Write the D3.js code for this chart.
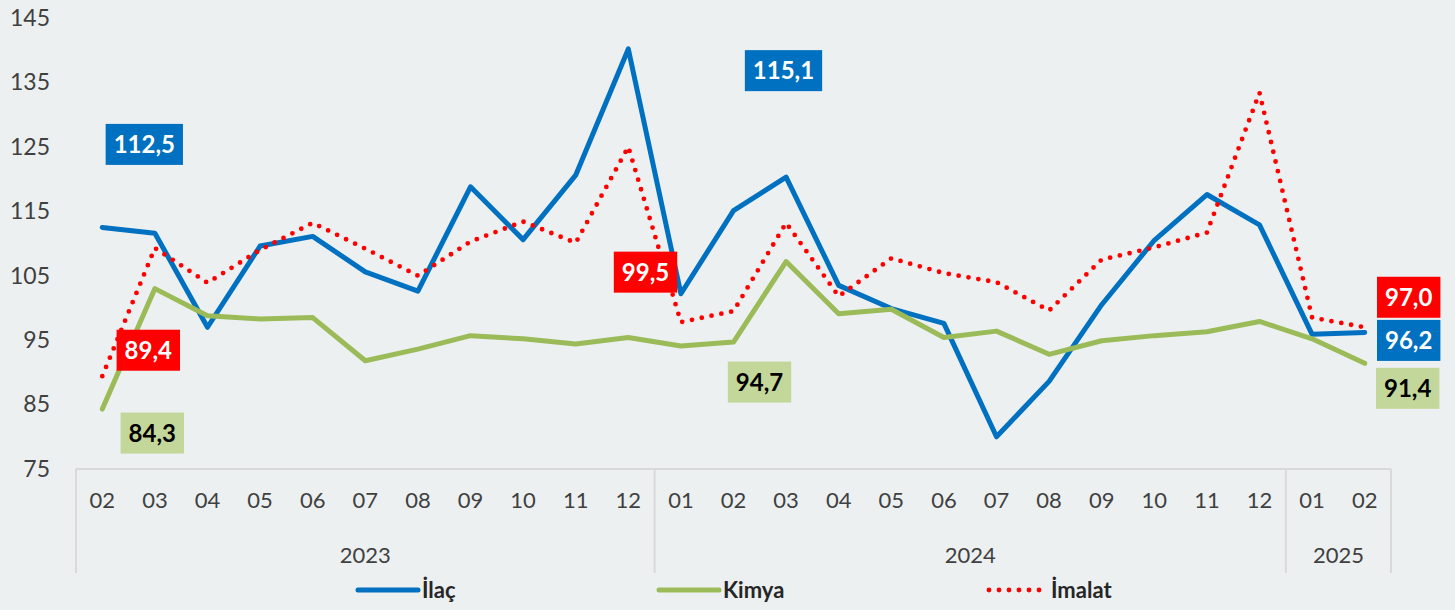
<!DOCTYPE html>
<html>
<head>
<meta charset="utf-8">
<script src="https://cdn.jsdelivr.net/npm/d3@7"></script>
<style>
  html, body { margin: 0; padding: 0; background: #ecf0f1; }
  svg { display: block; font-family: Lato, "Open Sans", sans-serif; }
</style>
</head>
<body>
<svg id="chart"></svg>
<script>
// Month labels and their year groups
const months = ['02','03','04','05','06','07','08','09','10','11','12',
  '01','02','03','04','05','06','07','08','09','10','11','12',
  '01','02'];
const yearGroups = [['2023', 11], ['2024', 12], ['2025', 2]];
const yTicks = [75, 85, 95, 105, 115, 125, 135, 145];

// Series values
const ilac = [112.5, 111.6, 97.0, 109.6, 111.1, 105.6, 102.6, 118.8, 110.6, 120.6, 140.2,
  102.2, 115.1, 120.3, 103.5, 99.9, 97.6, 80.0, 88.6, 100.5, 110.5, 117.6, 112.9,
  95.9, 96.2];
const kimya = [84.3, 103.0, 98.8, 98.3, 98.5, 91.8, 93.6, 95.7, 95.2, 94.4, 95.4,
  94.1, 94.7, 107.2, 99.1, 99.8, 95.4, 96.4, 92.8, 94.9, 95.7, 96.3, 97.9,
  95.2, 91.4];
const imalat = [89.4, 109.3, 103.9, 109.0, 113.2, 109.2, 105.0, 110.3, 113.4, 110.1, 125.0,
  97.8, 99.5, 113.2, 101.8, 107.7, 105.4, 104.0, 99.6, 107.5, 109.4, 111.7, 133.4,
  98.5, 97.0];

const series = [
  { name: 'İlaç', values: ilac, color: '#0070c0', dotted: false, labelBg: '#0070c0', labelFg: '#ffffff' },
  { name: 'Kimya', values: kimya, color: '#9bbb59', dotted: false, labelBg: '#c4d79b', labelFg: '#000000' },
  { name: 'İmalat', values: imalat, color: '#ff0000', dotted: true, labelBg: '#ff0000', labelFg: '#ffffff' }
];

// where the data labels sit relative to their point (series, index, dx, dy)
const labelSpots = [
  ['İlaç', 0, 42, -83], ['İmalat', 0, 46, -26], ['Kimya', 0, 50, 24],
  ['İlaç', 12, 50, -140], ['İmalat', 12, -88, -39], ['Kimya', 12, 26, 40],
  ['İmalat', 24, 44, -30], ['İlaç', 24, 44, 8], ['Kimya', 24, 43, 25]
];

const width = 1455, height = 610;
const svg = d3.select('#chart').attr('width', width).attr('height', height);

svg.append('rect').attr('width', width).attr('height', height).attr('fill', '#ecf0f1');

const plotLeft = 76, plotRight = 1391, plotTop = 18, plotBottom = 469;

const x = d3.scaleBand().domain(d3.range(months.length)).range([plotLeft, plotRight]).paddingInner(0).paddingOuter(0);
const cx = i => x(i) + x.bandwidth() / 2;
const y = d3.scaleLinear().domain([75, 145]).range([plotBottom, plotTop]);

// y axis labels only
const yAxis = d3.axisLeft(y).tickValues(yTicks).tickSize(0).tickPadding(0);
const yG = svg.append('g').attr('transform', 'translate(50,0)').call(yAxis);
yG.select('.domain').remove();
yG.selectAll('text').attr('fill', '#404040').style('font-size', '23px').attr('font-family', 'Lato, sans-serif');

// category box
const boxColor = '#d9d9d9';
const boxBottom = 573;
svg.append('line')
  .attr('x1', plotLeft).attr('x2', plotRight)
  .attr('y1', plotBottom).attr('y2', plotBottom)
  .attr('stroke', boxColor).attr('stroke-width', 2);

let start = 0;
const edges = [0];
yearGroups.forEach(g => { start += g[1]; edges.push(start); });
edges.forEach(e => {
  const ex = e < months.length ? x(e) : plotRight;
  svg.append('line')
    .attr('x1', ex).attr('x2', ex)
    .attr('y1', plotBottom).attr('y2', boxBottom)
    .attr('stroke', boxColor).attr('stroke-width', 2);
});

// month labels via axis
const xAxis = d3.axisBottom(x).tickSize(0).tickPadding(0).tickFormat(i => months[i]);
const xG = svg.append('g').attr('transform', `translate(0,${plotBottom + 23})`).call(xAxis);
xG.select('.domain').remove();
xG.selectAll('text').attr('fill', '#404040').style('font-size', '22px').attr('font-family', 'Lato, sans-serif').attr('dy', '0.35em').attr('y', 8);

// year labels
yearGroups.forEach((g, k) => {
  const a = edges[k], b = edges[k + 1];
  const left = x(a), right = b < months.length ? x(b) : plotRight;
  svg.append('text')
    .attr('x', (left + right) / 2)
    .attr('y', 555)
    .attr('text-anchor', 'middle')
    .attr('dy', '0.35em')
    .attr('fill', '#404040')
    .style('font-size', '22px')
    .text(g[0]);
});

// lines
const line = d3.line().x((d, i) => cx(i)).y(d => y(d));
series.forEach(s => {
  const p = svg.append('path')
    .datum(s.values)
    .attr('d', line)
    .attr('fill', 'none')
    .attr('stroke', s.color)
    .attr('stroke-linejoin', 'round');
  if (s.dotted) {
    p.attr('stroke-width', 4.8).attr('stroke-dasharray', '0 10').attr('stroke-linecap', 'round');
  } else {
    p.attr('stroke-width', 5).attr('stroke-linecap', 'round');
  }
});

// data labels
const fmt = v => d3.format('.1f')(v).replace('.', ',');
labelSpots.forEach(([name, idx, dx, dy]) => {
  const s = series.find(d => d.name === name);
  const px = cx(idx) + dx, py = y(s.values[idx]) + dy;
  const g = svg.append('g').attr('transform', `translate(${px},${py})`);
  const rect = g.append('rect').attr('fill', s.labelBg);
  const t = g.append('text')
    .attr('text-anchor', 'middle')
    .attr('dy', '0.36em')
    .attr('fill', s.labelFg)
    .style('font-size', '24px')
    .style('font-weight', 'bold')
    .text(fmt(s.values[idx]));
  const w = t.node().getComputedTextLength() + 16;
  const h = 41;
  rect.attr('x', -w / 2).attr('y', -h / 2).attr('width', w).attr('height', h);
});

// legend
const legendY = 590;
const legendPos = [358, 659, 987];
series.forEach((s, k) => {
  const lx = legendPos[k];
  const l = svg.append('line')
    .attr('x1', lx).attr('x2', lx + 60)
    .attr('y1', legendY).attr('y2', legendY)
    .attr('stroke', s.color);
  if (s.dotted) {
    l.attr('stroke-width', 4.8).attr('stroke-dasharray', '0 10').attr('stroke-linecap', 'round')
      .attr('x1', lx + 2).attr('x2', lx + 60);
  } else {
    l.attr('stroke-width', 5).attr('stroke-linecap', 'round');
  }
  svg.append('text')
    .attr('x', lx + 64)
    .attr('y', legendY)
    .attr('dy', '0.35em')
    .attr('fill', '#262626')
    .style('font-size', '22px')
    .style('font-weight', 'bold')
    .text(s.name);
});
</script>
</body>
</html>
